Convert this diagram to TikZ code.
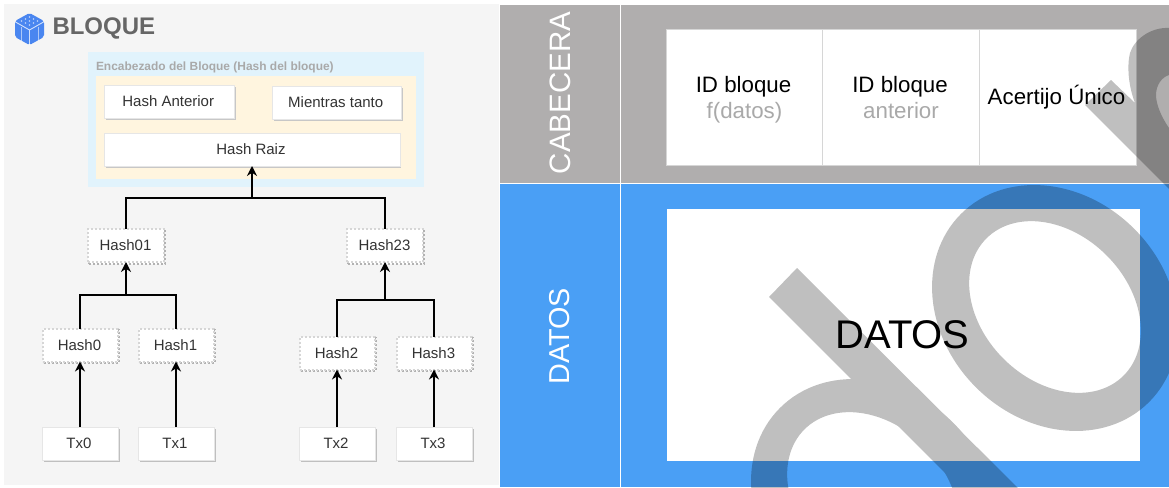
\documentclass[tikz,border=0pt]{standalone}
\usepackage{fontspec}
\setmainfont{Liberation Sans}
\usetikzlibrary{arrows.meta,shadows,calc}
\definecolor{panelbg}{HTML}{F5F5F5}
\definecolor{headgray}{HTML}{B0AEAE}
\definecolor{datablue}{HTML}{4A9FF5}
\definecolor{skyback}{HTML}{E1F3FC}
\definecolor{creamback}{HTML}{FFF5DF}
\definecolor{labelgray}{HTML}{A9A9A9}
\definecolor{titlegray}{HTML}{666666}
\definecolor{boxtext}{HTML}{333333}
\definecolor{softline}{HTML}{D6D6D6}
\definecolor{iconblue}{HTML}{4A86F0}
\newcommand{\fs}[1]{\fontsize{#1}{#1}\selectfont}
\newcommand{\twolines}[2]{\rule{0pt}{21.5pt}\vphantom{f(datos)}#1\\[4pt]{\color{labelgray}\vphantom{f(datos)}#2}}
\tikzset{
  x=1pt,y=-1pt,
  base/.style={inner sep=0pt,outer sep=0pt,anchor=center,align=center},
  txbox/.style={base,fill=white,draw=softline!60,line width=.4pt,minimum width=#1,minimum height=33pt,text=boxtext,font=\fs{15},
    drop shadow={shadow xshift=1.6pt,shadow yshift=-1.8pt,opacity=1,fill=black!25}},
  txbox/.default=76pt,
  hdrbox/.style={txbox=#1,drop shadow={shadow xshift=1.6pt,shadow yshift=-1.8pt,opacity=1,fill=black!22}},
  hashbox/.style={base,fill=white,minimum width=#1,minimum height=33pt,text=boxtext,font=\fs{15},
    draw=softline,line width=2pt,dash pattern=on 2pt off 2pt,
    general shadow={shadow xshift=1pt,shadow yshift=-1.5pt,draw=black!30,line width=2pt,dash pattern=on 2pt off 2pt,fill=white}},
  hashbox/.default=75pt,
  cell/.style={base,fill=white,draw=softline,line width=.8pt,minimum width=156.5pt,minimum height=136pt,font=\fs{22.3},text=black},
  link/.style={draw=black,line width=2.2pt},
  arr/.style={link,-{Stealth[length=10pt,width=10pt]}},
  vlabel/.style={base,rotate=90,text=white},
}
\begin{document}
\begin{tikzpicture}
\useasboundingbox (0,0) rectangle (1169,487);
\fill[white] (0,0) rectangle (1169,487);
% left panel
\fill[panelbg] (4,4) rectangle (499,485);
\fill[skyback] (88,52) rectangle (424,187);
\fill[creamback] (96,76) rectangle (416,179);
% icon
\fill[iconblue,rounded corners=2pt] (29.5,13) -- (44,21) -- (44,37) -- (29.5,45) -- (15,37) -- (15,21) -- cycle;
\draw[white,opacity=.75,line width=.9pt] (15.5,22) -- (29.5,30) -- (43.5,22) (29.5,30) -- (29.5,45);
\draw[white,opacity=.55,line width=.8pt] (21,27) -- (21,41) (38,27) -- (38,41);
\foreach \p in {(29.5,17),(25.5,19),(33.5,19),(21.5,21),(29.5,21),(37.5,21),(25.5,23),(33.5,23),(29.5,25)}
  \fill[white,opacity=.65] \p circle[radius=.9pt];
% titles
\node[base,anchor=west,font=\bfseries\fs{24},text=titlegray] (title) at (52.5,28.5) {BLOQUE};
\node[base,anchor=west,font=\bfseries\fs{11.95},text=labelgray] (hdr) at (96,67) {Encabezado del Bloque (Hash del bloque)};
% header nodes
\node[hdrbox=129.5pt] (prev) at (169.25,101.5) {\hspace*{-2pt}Hash Anterior};
\node[hdrbox=128.5pt] (nonce) at (336.75,102.5) {\hspace*{-2pt}Mientras tanto};
\node[hdrbox=295.5pt] (root) at (252,149.5) {\hspace*{-2pt}Hash Raiz};
% hash tree
\node[hashbox=76pt] (h01) at (126,245.5) {\hspace*{-1pt}Hash01};
\node[hashbox=76pt] (h23) at (385,245.5) {\hspace*{-1pt}Hash23};
\node[hashbox] (h0) at (80,345) {\hspace*{-1pt}Hash0};
\node[hashbox] (h1) at (176,345) {\hspace*{-1pt}Hash1};
\node[hashbox] (h2) at (337,353) {\hspace*{-1pt}Hash2};
\node[hashbox] (h3) at (434,353) {\hspace*{-1pt}Hash3};
\node[txbox] (t0) at (80,443.5) {\hspace*{-2pt}Tx0};
\node[txbox] (t1) at (176,443.5) {\hspace*{-2pt}Tx1};
\node[txbox] (t2) at (337,443.5) {\hspace*{-2pt}Tx2};
\node[txbox] (t3) at (434,443.5) {\hspace*{-2pt}Tx3};
\coordinate (jr) at (252,198);
\coordinate (j01) at (126,295);
\coordinate (j23) at (385,300);
\draw[link] (h01.north) |- (jr) -| (h23.north);
\draw[arr] (jr) -- (root.south);
\draw[link] (h0.north) |- (j01) -| (h1.north);
\draw[arr] (j01) -- (h01.south);
\draw[link] (h2.north) |- (j23) -| (h3.north);
\draw[arr] (j23) -- (h23.south);
\draw[arr] (t0.north) -- (h0.south);
\draw[arr] (t1.north) -- (h1.south);
\draw[arr] (t2.north) -- (h2.south);
\draw[arr] (t3.north) -- (h3.south);
% right panels
\fill[headgray] (500,5) rectangle (1169,183);
\fill[datablue] (500,184) rectangle (1169,487);
\draw[white,line width=1pt] (500,183.5) -- (1169,183.5) (620.5,5) -- (620.5,487);
\node[vlabel,font=\fs{29.5}] (cab) at (560.5,93) {CABECERA};
\node[vlabel,font=\fs{28.8}] (dat) at (560,336.5) {DATOS};
\node[cell] (c1) at (744.5,97) {\hspace*{-2pt}\twolines{ID bloque}{f(datos)}};
\node[cell] (c2) at (901,97) {\hspace*{-2pt}\twolines{ID bloque}{anterior}};
\node[cell,minimum width=157pt] (c3) at (1057.5,97) {\hspace*{-2pt}Acertijo Único};
\node[base,fill=white,minimum width=473pt,minimum height=252pt,font=\fs{40},text=black] (data) at (903.5,335) {\hspace*{-2pt}DATOS};
% watermark
\begin{scope}
\clip (500,5) rectangle (1169,487);
\begin{scope}[transparency group,opacity=.25]
\fill[black] (797,268) -- (769,297) -- (1000,528) -- (1040,510) -- cycle;
\fill[black,even odd rule] (874,502) ellipse[x radius=133pt,y radius=112pt,rotate=-45]
   (873,498) ellipse[x radius=97pt,y radius=73pt,rotate=-45];
\fill[black,even odd rule] (1055,308) ellipse[x radius=133pt,y radius=112pt,rotate=-45]
   (1055,307) ellipse[x radius=97pt,y radius=73pt,rotate=-45];
\fill[black,even odd rule] (1111,80) -- (1135,103) .. controls (1128,85) and (1127,65) .. (1130,53)
   .. controls (1134,40) and (1150,27) .. (1169,28) -- (1185,28) -- (1185,205) -- (1085,105) -- cycle
   (1169,75) .. controls (1162,77) and (1156,85) .. (1156,95) .. controls (1156,105) and (1162,118) .. (1169,128)
   -- (1185,128) -- (1185,75) -- cycle;
\end{scope}
\end{scope}
\end{tikzpicture}
\end{document}
